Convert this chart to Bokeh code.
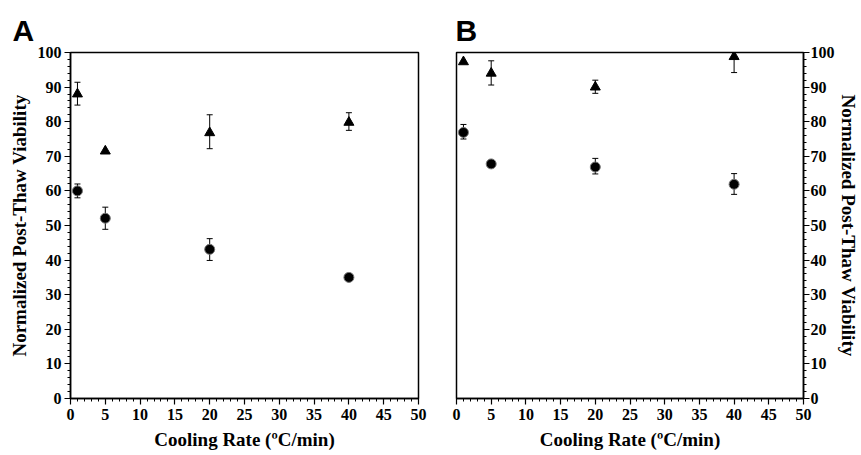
from bokeh.plotting import figure
from bokeh.layouts import row
from bokeh.models import (Range1d, SingleIntervalTicker, Whisker, TeeHead,
                          ColumnDataSource, Title)
from bokeh.embed import file_html
from bokeh.resources import INLINE

# ---------------- data ----------------
cooling_rate = [1, 5, 20, 40]

a_tri_y = [88.0, 71.5, 76.8, 79.8]
a_tri_lo = [3.2, 0.0, 4.6, 2.3]
a_tri_hi = [3.4, 0.0, 5.2, 2.8]
a_cir_y = [60.0, 52.1, 43.1, 35.0]
a_cir_lo = [2.0, 3.2, 3.2, 0.0]
a_cir_hi = [2.0, 3.2, 3.1, 0.0]

b_tri_y = [97.3, 94.0, 90.0, 98.8]
b_tri_lo = [0.0, 3.4, 1.8, 4.6]
b_tri_hi = [0.0, 3.6, 2.0, 1.2]
b_cir_y = [76.9, 67.8, 66.9, 61.9]
b_cir_lo = [1.9, 0.0, 2.0, 2.9]
b_cir_hi = [2.3, 0.0, 2.5, 3.1]

x_label = "Cooling Rate (ºC/min)"
y_label = "Normalized Post-Thaw Viability"

SERIF = "Liberation Serif"
SANS = "Liberation Sans"


def add_series(p, ys, lo, hi, marker, size, line_color):
    keep = [i for i in range(len(ys)) if lo[i] > 0 or hi[i] > 0]
    src = ColumnDataSource(dict(
        x=[cooling_rate[i] for i in keep],
        lower=[ys[i] - lo[i] for i in keep],
        upper=[ys[i] + hi[i] for i in keep]))
    w = Whisker(source=src, base="x", lower="lower", upper="upper",
                line_color="black", line_width=1,
                upper_head=TeeHead(size=6, line_color="black", line_width=1),
                lower_head=TeeHead(size=6, line_color="black", line_width=1))
    p.add_layout(w)
    p.scatter(cooling_rate, ys, marker=marker, size=size,
              fill_color="black", line_color=line_color, line_width=1)


def make_panel(side, letter, letter_offset, tri_y, tri_lo, tri_hi,
               cir_y, cir_lo, cir_hi, width, height, borders):
    p = figure(width=width, height=height, output_backend="svg",
               toolbar_location=None, x_range=Range1d(0, 50),
               y_range=Range1d(0, 100), y_axis_location=side,
               min_border_left=borders[0], min_border_right=borders[1],
               min_border_top=borders[2], min_border_bottom=borders[3])
    p.grid.visible = False
    p.outline_line_color = "black"
    p.outline_line_width = 1.5
    p.background_fill_color = "white"
    p.border_fill_color = "white"

    p.xaxis.ticker = SingleIntervalTicker(interval=5, num_minor_ticks=5)
    p.yaxis.ticker = SingleIntervalTicker(interval=10, num_minor_ticks=5)
    for ax in (p.xaxis, p.yaxis):
        ax.axis_line_color = "black"
        ax.axis_line_width = 1.5
        ax.major_tick_line_color = "black"
        ax.minor_tick_line_color = "black"
        ax.major_tick_line_width = 1.2
        ax.minor_tick_line_width = 1
        ax.major_tick_out = 6
        ax.major_tick_in = 0
        ax.minor_tick_out = 3
        ax.minor_tick_in = 0
        ax.major_label_text_font = SERIF
        ax.major_label_text_font_style = "bold"
        ax.major_label_text_font_size = "16px"
        ax.major_label_text_color = "black"
        ax.axis_label_text_font = SERIF
        ax.axis_label_text_font_style = "bold"
        ax.axis_label_text_font_size = "19px"
        ax.axis_label_text_color = "black"
    p.xaxis.axis_label = x_label
    p.yaxis.axis_label = y_label
    p.xaxis.major_label_standoff = 4
    p.xaxis.axis_label_standoff = 6
    if side == "left":
        p.yaxis.major_label_standoff = 3
        p.yaxis.axis_label_standoff = 5
    else:
        p.yaxis.major_label_standoff = 1
        p.yaxis.axis_label_standoff = 0

    add_series(p, tri_y, tri_lo, tri_hi, "triangle", 10, "black")
    add_series(p, cir_y, cir_lo, cir_hi, "circle", 10, "#777777")

    t = Title(text=letter, align="left", offset=letter_offset,
              text_font=SANS, text_font_style="bold",
              text_font_size="30px", text_color="black", standoff=12)
    p.add_layout(t, "above")
    return p


pa = make_panel("left", "A", -58, a_tri_y, a_tri_lo, a_tri_hi,
                a_cir_y, a_cir_lo, a_cir_hi, 438, 455, (70, 20, 52, 57))
pb = make_panel("right", "B", -1, b_tri_y, b_tri_lo, b_tri_hi,
                b_cir_y, b_cir_lo, b_cir_hi, 423, 455, (18, 58, 52, 57))

layout = row(pa, pb)
open("out.html", "w").write(file_html(layout, INLINE))
